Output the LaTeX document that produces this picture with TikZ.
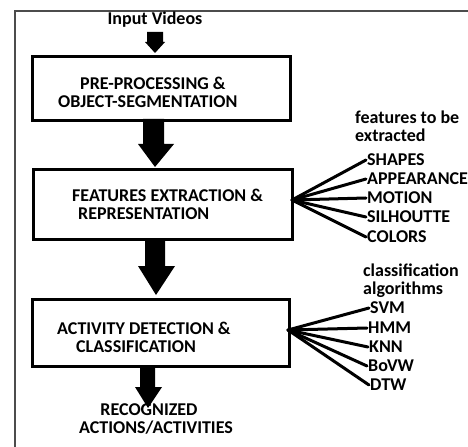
\documentclass[tikz,border=0pt]{standalone}
\usepackage{fontspec}
\setmainfont{Carlito}
\usetikzlibrary{calc}
\begin{document}
\begin{tikzpicture}[x=1bp,y=-1bp,
  every node/.style={font=\fontsize{18bp}{18bp}\selectfont\bfseries, inner sep=0pt},
  box/.style={draw=black, line width=3bp, fill=white, anchor=north west},
  txt/.style={anchor=west},
  item/.style={anchor=west},
  head/.style={anchor=west, align=left},
  fan/.style={line width=3bp, line cap=round},
  blockarrow/.style={fill=black}
]
\useasboundingbox (0,0) rectangle (468,447);
\fill[white] (0,0) rectangle (468,447);
% frame
\draw[line width=1.4bp, black!70] (15,447) -- (15,11) -- (468,11);

% boxes
\node[box, minimum width=258bp, minimum height=64bp] (b1) at (31,55) {};
\node[box, minimum width=259bp, minimum height=70bp] (b2) at (32,168) {};
\node[box, minimum width=257bp, minimum height=67bp] (b3) at (31,298) {};

% box texts
\node[txt] (t1a) at (80,83) {PRE-PROCESSING \&};
\node[txt] (t1b) at (58,102) {OBJECT-SEGMENTATION};
\node[txt] (t2a) at (72,195) {FEATURES EXTRACTION \&};
\node[txt] (t2b) at (78,214) {REPRESENTATION};
\node[txt] (t3a) at (57,328) {ACTIVITY DETECTION \&};
\node[txt] (t3b) at (76,347) {CLASSIFICATION};

% input / output
\node (in) at (155,20) {Input Videos};
\node[align=center] (out) at (156,419) {\hspace*{-14bp}RECOGNIZED\\ACTIONS/ACTIVITIES};

% block arrows
\fill[blockarrow] (147,32) -- (163,32) -- (163,42) -- (165,42) -- (155,53) -- (145,42) -- (147,42) -- cycle;
\fill[blockarrow] (143,119) -- (164,119) -- (164,144) -- (174,144) -- (155,167) -- (138,144) -- (143,144) -- cycle;
\fill[blockarrow] (145,238) -- (165,238) -- (165,266) -- (175,266) -- (156,295) -- (138,266) -- (145,266) -- cycle;
\fill[blockarrow] (140,365) -- (155,365) -- (155,387) -- (162,387) -- (148,408) -- (135,387) -- (140,387) -- cycle;

% features
\node[head] (fh) at (355,126) {features to be\\extracted};
\node[item] (f1) at (367,160) {SHAPES};
\node[item] (f2) at (367,179) {APPEARANCE};
\node[item] (f3) at (367,198) {MOTION};
\node[item] (f4) at (367,217) {SILHOUTTE};
\node[item] (f5) at (367,237) {COLORS};
\coordinate (fo) at (292,200);
\foreach \n in {f1,f2,f3,f4,f5} \draw[fan] (fo) -- ($(\n.west)+(-1,0)$);

% classification
\node[head] (ch) at (363,281) {classification\\algorithms};
\node[item] (c1) at (370,308) {SVM};
\node[item] (c2) at (368,328) {HMM};
\node[item] (c3) at (369,347) {KNN};
\node[item] (c4) at (368,366) {BoVW};
\node[item] (c5) at (370,385) {DTW};
\coordinate (co) at (288,330);
\foreach \n in {c1,c2,c3,c4,c5} \draw[fan] (co) -- ($(\n.west)+(-1,0)$);
\end{tikzpicture}
\end{document}
